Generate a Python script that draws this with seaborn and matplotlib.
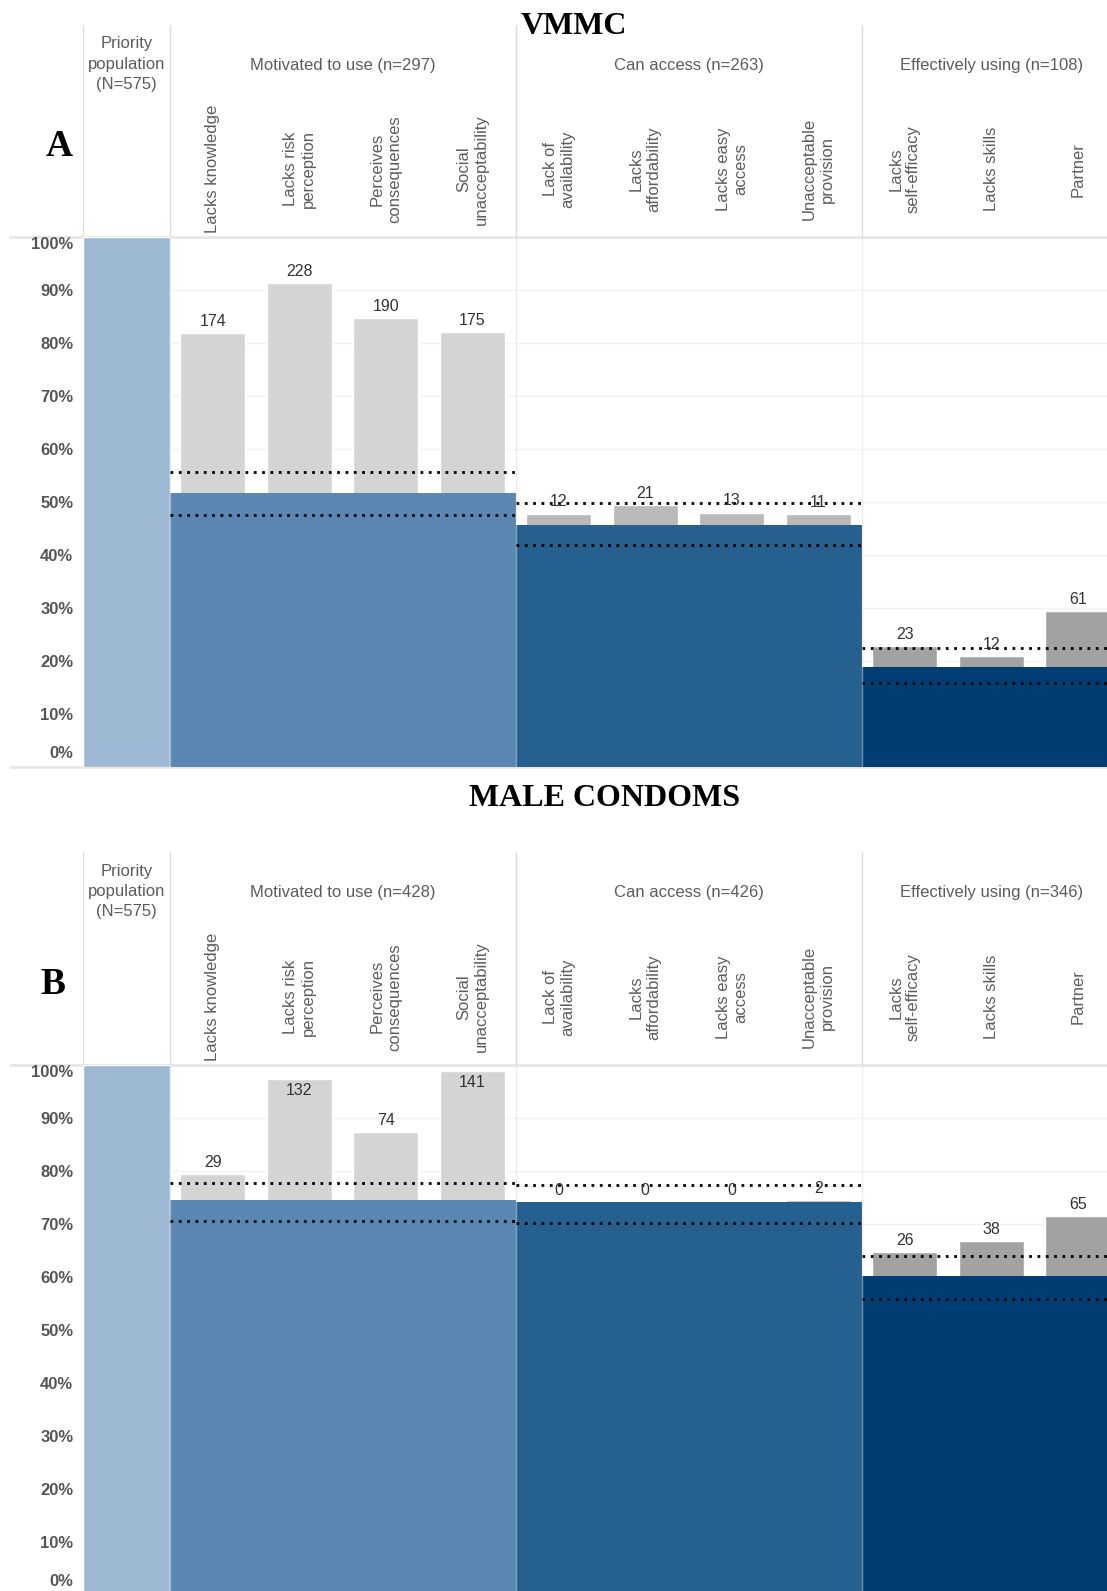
import matplotlib.pyplot as plt
from matplotlib.lines import Line2D
import pandas as pd
import seaborn as sns

sns.set_theme(style="white")
plt.rcParams["font.family"] = ["Liberation Sans", "DejaVu Sans"]

# ---- data ----
N = 575
stages = ["Motivated to use", "Can access", "Effectively using"]
barriers = [
    ["Lacks knowledge", "Lacks risk\nperception", "Perceives\nconsequences", "Social\nunacceptability"],
    ["Lack of\navailability", "Lacks\naffordability", "Lacks easy\naccess", "Unacceptable\nprovision"],
    ["Lacks\nself-efficacy", "Lacks skills", "Partner"],
]

vmmc_n = [297, 263, 108]
vmmc_counts = [[174, 228, 190, 175], [12, 21, 13, 11], [23, 12, 61]]
vmmc_ci = [(47.5, 55.7), (41.8, 49.9), (15.8, 22.4)]

condom_n = [428, 426, 346]
condom_counts = [[29, 132, 74, 141], [0, 0, 0, 2], [26, 38, 65]]
condom_ci = [(70.6, 77.7), (70.1, 77.4), (55.8, 64.0)]

yticks = list(range(0, 101, 10))

# ---- style ----
priority_color = "#9db8d2"
stage_colors = ["#5a88b2", "#26608f", "#003d73"]
grey_colors = ["#d4d4d4", "#b9b9b9", "#a2a2a2"]
text_grey = "#5c5c5c"
line_grey = "#dcdcdc"

W, H = 1107, 1591
fig = plt.figure(figsize=(W / 100, H / 100), dpi=100)


def fx(px):
    return px / W


def fy(py):
    return 1 - py / H


LEFT = 83
UNIT = 86.5
XMAX = (W - LEFT) / UNIT


def hline(py, x0=10):
    fig.add_artist(Line2D([fx(x0), 1], [fy(py), fy(py)], transform=fig.transFigure,
                          color="#e6e6e6", lw=2, zorder=0))


def draw_panel(head_top, plot_top, plot_bottom, ns, counts, ci):
    hax = fig.add_axes([fx(LEFT), fy(plot_top), 1 - fx(LEFT), (plot_top - head_top) / H])
    ax = fig.add_axes([fx(LEFT), fy(plot_bottom), 1 - fx(LEFT), (plot_bottom - plot_top) / H])

    # grey barrier bars (drawn from 0, partly hidden by stage bars)
    rows = []
    start = 1
    for i, stage in enumerate(stages):
        for j, lab in enumerate(barriers[i]):
            rows.append({"pos": start + j + 0.5, "pct": (ns[i] + counts[i][j]) / N * 100,
                         "count": counts[i][j], "stage": stage})
        start += len(barriers[i])
    df = pd.DataFrame(rows)
    sns.barplot(data=df, x="pos", y="pct", hue="stage", native_scale=True, dodge=False,
                palette=dict(zip(stages, grey_colors)), width=0.75, saturation=1,
                errorbar=None, legend=False, ax=ax, zorder=2)

    # priority population + stage bars
    ax.bar(0, 100, width=1, align="edge", color=priority_color, zorder=3)
    start = 1
    for i in range(len(stages)):
        k = len(barriers[i])
        ax.bar(start, ns[i] / N * 100, width=k, align="edge", color=stage_colors[i],
               lw=0, zorder=3)
        ax.hlines(ci[i], start, start + k, colors="black", lw=2,
                  linestyles=(0, (1, 2)), zorder=5)
        start += k

    for _, r in df.iterrows():
        inside = r["pct"] > 96
        ax.annotate(str(r["count"]), (r["pos"], r["pct"]),
                    xytext=(0, -3 if inside else 3), textcoords="offset points",
                    ha="center", va="top" if inside else "bottom",
                    fontsize=11.5, color="#333333", zorder=6)

    for x in [1, 5, 9]:
        ax.axvline(x, color=line_grey, lw=1, alpha=0.5, zorder=4)
    for y in yticks[1:-1]:
        ax.axhline(y, color="#f2f2f2", lw=1, zorder=0)

    ax.set_xlim(0, XMAX)
    ax.set_ylim(0, 100)
    ax.set_xticks([])
    ax.set_xlabel("")
    ax.set_ylabel("")
    tick_kw = dict(fontsize=12, fontweight="bold", color="#555555")
    ax.set_yticks(yticks[1:])
    ax.set_yticklabels([f"{t}%" for t in yticks[1:]], **tick_kw)
    ax.get_yticklabels()[-1].set_va("top")
    # the 0% label sits just above the baseline, as in the original
    ax.annotate("0%", (0, 0), xycoords=("axes fraction", "data"), xytext=(-7, 4),
                textcoords="offset points", ha="right", va="bottom",
                annotation_clip=False, **tick_kw)
    ax.tick_params(axis="y", length=0, pad=7)
    for s in ax.spines.values():
        s.set_visible(False)
    ax.patch.set_alpha(0)

    # header
    hax.set_xlim(0, XMAX)
    hax.set_ylim(0, 1)
    hax.axis("off")
    for x in [0, 1, 5, 9]:
        hax.axvline(x, color=line_grey, lw=1)
    hax.text(0.5, 0.815, f"Priority\npopulation\n(N={N})", ha="center", va="center",
             fontsize=12, color=text_grey, linespacing=1.45)
    start = 1
    for i, stage in enumerate(stages):
        k = len(barriers[i])
        hax.text(start + k / 2, 0.81, f"{stage} (n={ns[i]})", ha="center", va="center",
                 fontsize=12, color=text_grey)
        for j, lab in enumerate(barriers[i]):
            hax.text(start + j + 0.5, 0.32, lab, rotation=90, ha="center", va="center",
                     multialignment="center", fontsize=12, color=text_grey,
                     linespacing=1.2)
        start += k
    return ax


serif = ["Liberation Serif", "DejaVu Serif"]

# panel A
hline(237)
hline(767)
draw_panel(25, 237, 767, vmmc_n, vmmc_counts, vmmc_ci)
fig.text(fx(574), fy(27), "VMMC", ha="center", va="center", fontsize=23,
         fontweight="bold", family=serif, color="black")
fig.text(fx(59), fy(146), "A", ha="center", va="center", fontsize=27,
         fontweight="bold", family=serif, color="black")

# panel B
hline(1065)
draw_panel(852, 1065, 1595, condom_n, condom_counts, condom_ci)
fig.text(fx(605), fy(798), "MALE CONDOMS", ha="center", va="center", fontsize=23,
         fontweight="bold", family=serif, color="black")
fig.text(fx(53), fy(985), "B", ha="center", va="center", fontsize=27,
         fontweight="bold", family=serif, color="black")

fig.savefig("out.png", dpi=100)
